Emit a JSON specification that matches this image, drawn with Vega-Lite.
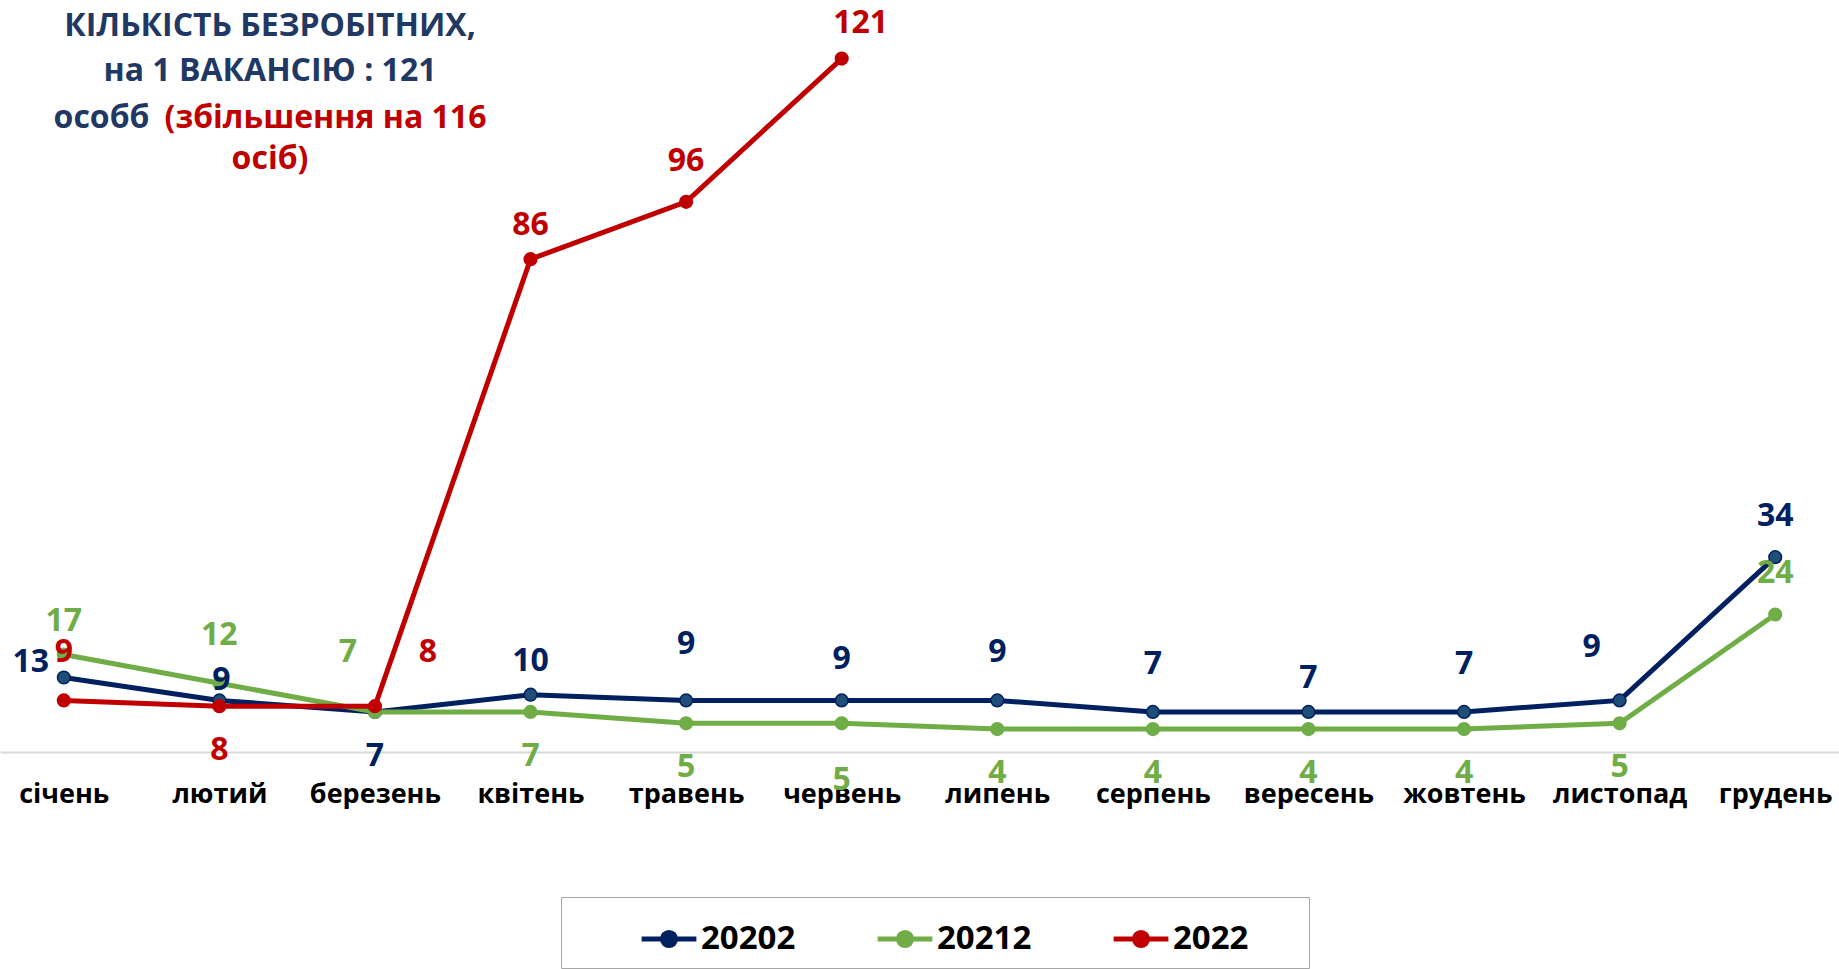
{
  "$schema": "https://vega.github.io/schema/vega-lite/v6.json",
  "width": 1839,
  "height": 745,
  "autosize": {"type": "none"},
  "padding": {"top": 7, "left": 0, "right": 0, "bottom": 217},
  "background": "white",
  "config": {
    "view": {"stroke": null},
    "font": "Open Sans"
  },
  "title": {
    "text": ["КІЛЬКІСТЬ  БЕЗРОБІТНИХ,", "на  1  ВАКАНСІЮ : 121"],
    "subtitle": "осіб)",
    "orient": "top",
    "anchor": "start",
    "frame": "group",
    "align": "center",
    "dx": 270,
    "dy": 173,
    "font": "Open Sans",
    "fontSize": 32,
    "fontWeight": "bold",
    "color": "#1F3864",
    "lineHeight": 45,
    "subtitleFont": "Open Sans",
    "subtitleFontSize": 32,
    "subtitleFontWeight": "bold",
    "subtitleColor": "#C00000",
    "subtitleLineHeight": 45,
    "subtitlePadding": 56
  },
  "data": {
    "values": [
      {"month": "січень", "series": "20202", "value": 13},
      {"month": "лютий", "series": "20202", "value": 9},
      {"month": "березень", "series": "20202", "value": 7},
      {"month": "квітень", "series": "20202", "value": 10},
      {"month": "травень", "series": "20202", "value": 9},
      {"month": "червень", "series": "20202", "value": 9},
      {"month": "липень", "series": "20202", "value": 9},
      {"month": "серпень", "series": "20202", "value": 7},
      {"month": "вересень", "series": "20202", "value": 7},
      {"month": "жовтень", "series": "20202", "value": 7},
      {"month": "листопад", "series": "20202", "value": 9},
      {"month": "грудень", "series": "20202", "value": 34},
      {"month": "січень", "series": "20212", "value": 17},
      {"month": "лютий", "series": "20212", "value": 12},
      {"month": "березень", "series": "20212", "value": 7},
      {"month": "квітень", "series": "20212", "value": 7},
      {"month": "травень", "series": "20212", "value": 5},
      {"month": "червень", "series": "20212", "value": 5},
      {"month": "липень", "series": "20212", "value": 4},
      {"month": "серпень", "series": "20212", "value": 4},
      {"month": "вересень", "series": "20212", "value": 4},
      {"month": "жовтень", "series": "20212", "value": 4},
      {"month": "листопад", "series": "20212", "value": 5},
      {"month": "грудень", "series": "20212", "value": 24},
      {"month": "січень", "series": "2022", "value": 9},
      {"month": "лютий", "series": "2022", "value": 8},
      {"month": "березень", "series": "2022", "value": 8},
      {"month": "квітень", "series": "2022", "value": 86},
      {"month": "травень", "series": "2022", "value": 96},
      {"month": "червень", "series": "2022", "value": 121}
    ]
  },
  "encoding": {
    "x": {
      "field": "month",
      "type": "ordinal",
      "sort": ["січень","лютий","березень","квітень","травень","червень","липень","серпень","вересень","жовтень","листопад","грудень"],
      "scale": {"type": "point", "padding": 0.41},
      "axis": {
        "title": "(збільшення  на 116",
        "titleX": 325,
        "titleY": -625,
        "titleAlign": "center",
        "titleAnchor": null,
        "titleBaseline": "alphabetic",
        "titleFont": "Open Sans",
        "titleFontSize": 32,
        "titleFontWeight": "bold",
        "titleColor": "#C00000",
        "orient": "bottom",
        "domainColor": "#D9D9D9",
        "domainWidth": 2,
        "ticks": false,
        "tickSize": 0,
        "grid": false,
        "labelAngle": 0,
        "labelFont": "Open Sans",
        "labelFontSize": 27,
        "labelFontWeight": "bold",
        "labelColor": "#000000",
        "labelBaseline": "middle",
        "labelPadding": 42
      }
    },
    "y": {
      "field": "value",
      "type": "quantitative",
      "scale": {"domain": [0, 130], "nice": false, "zero": true},
      "axis": {
        "title": "особб",
        "titleX": 101,
        "titleY": 120,
        "titleAngle": 0,
        "titleAlign": "center",
        "titleAnchor": null,
        "titleBaseline": "alphabetic",
        "titleFont": "Open Sans",
        "titleFontSize": 32,
        "titleFontWeight": "bold",
        "titleColor": "#1F3864",
        "domain": false,
        "ticks": false,
        "labels": false,
        "grid": false
      }
    }
  },
  "layer": [
    {
      "mark": {"type": "line", "strokeWidth": 5},
      "encoding": {
        "color": {
          "field": "series",
          "type": "nominal",
          "scale": {"domain": ["20202", "20212", "2022"], "range": ["#002060", "#70AD47", "#C00000"]},
          "legend": {
            "title": "\u00a0",
            "titleOrient": "left",
            "titleFontSize": 10,
            "titlePadding": 66,
            "orient": "none",
            "legendX": 561,
            "legendY": 890,
            "direction": "horizontal",
            "padding": 12,
            "strokeColor": "#A6A6A6",
            "labelFont": "Open Sans",
            "labelFontSize": 33,
            "labelFontWeight": "bold",
            "labelColor": "#000000",
            "labelOffset": 2,
            "labelLimit": 1000,
            "columnPadding": 71,
            "symbolType": "M-1,0L1,0M-0.24,0A0.24,0.24,0,1,1,0.24,0A0.24,0.24,0,1,1,-0.24,0Z",
            "symbolSize": 3000,
            "symbolStrokeWidth": 5,
            "labelExpr": "datum.label == '2022' ? '2022\u2800\u2800' : datum.label",
            "encode": {
              "symbols": {"update": {"fill": {"scale": "color", "field": "value"}, "stroke": {"scale": "color", "field": "value"}}}
            }
          }
        }
      }
    },
    {
      "mark": {"type": "point", "filled": true, "size": 160, "strokeWidth": 1.5, "opacity": 1},
      "encoding": {
        "fill": {
          "field": "series",
          "type": "nominal",
          "scale": {"domain": ["20202", "20212", "2022"], "range": ["#1F4E79", "#70AD47", "#C00000"]},
          "legend": null
        },
        "stroke": {
          "field": "series",
          "type": "nominal",
          "scale": {"domain": ["20202", "20212", "2022"], "range": ["#002060", "#70AD47", "#C00000"]},
          "legend": null
        }
      }
    },
    {
      "transform": [{"filter": "indexof(['20202|липень','20202|серпень','20202|жовтень','2022|січень','20212|лютий'], datum.series + '|' + datum.month) >= 0"}],
      "mark": {"type": "text", "font": "Open Sans", "fontSize": 32, "fontWeight": "bold", "baseline": "middle", "align": "center", "dy": -48},
      "encoding": {"text": {"field": "value"}, "color": {"field": "series", "type": "nominal"}}
    },
    {
      "transform": [{"filter": "indexof(['20202|травень'], datum.series + '|' + datum.month) >= 0"}],
      "mark": {"type": "text", "font": "Open Sans", "fontSize": 32, "fontWeight": "bold", "baseline": "middle", "align": "center", "dy": -56},
      "encoding": {"text": {"field": "value"}, "color": {"field": "series", "type": "nominal"}}
    },
    {
      "transform": [{"filter": "indexof(['20202|червень','2022|травень','20202|грудень','20212|грудень'], datum.series + '|' + datum.month) >= 0"}],
      "mark": {"type": "text", "font": "Open Sans", "fontSize": 32, "fontWeight": "bold", "baseline": "middle", "align": "center", "dy": -41},
      "encoding": {"text": {"field": "value"}, "color": {"field": "series", "type": "nominal"}}
    },
    {
      "transform": [{"filter": "indexof(['20202|вересень','20212|січень','2022|квітень','20202|квітень'], datum.series + '|' + datum.month) >= 0"}],
      "mark": {"type": "text", "font": "Open Sans", "fontSize": 32, "fontWeight": "bold", "baseline": "middle", "align": "center", "dy": -34},
      "encoding": {"text": {"field": "value"}, "color": {"field": "series", "type": "nominal"}}
    },
    {
      "transform": [{"filter": "indexof(['20202|березень','20212|квітень','20212|травень','20212|липень','20212|серпень','20212|вересень','20212|жовтень','20212|листопад','2022|лютий'], datum.series + '|' + datum.month) >= 0"}],
      "mark": {"type": "text", "font": "Open Sans", "fontSize": 32, "fontWeight": "bold", "baseline": "middle", "align": "center", "dy": 44},
      "encoding": {"text": {"field": "value"}, "color": {"field": "series", "type": "nominal"}}
    },
    {
      "transform": [{"filter": "indexof(['20212|червень'], datum.series + '|' + datum.month) >= 0"}],
      "mark": {"type": "text", "font": "Open Sans", "fontSize": 32, "fontWeight": "bold", "baseline": "middle", "align": "center", "dy": 57},
      "encoding": {"text": {"field": "value"}, "color": {"field": "series", "type": "nominal"}}
    },
    {
      "transform": [{"filter": "datum.series == '20202' && datum.month == 'січень'"}],
      "mark": {"type": "text", "font": "Open Sans", "fontSize": 32, "fontWeight": "bold", "baseline": "middle", "align": "center", "dx": -33, "dy": -16},
      "encoding": {"text": {"field": "value"}, "color": {"field": "series", "type": "nominal"}}
    },
    {
      "transform": [{"filter": "datum.series == '20202' && datum.month == 'лютий'"}],
      "mark": {"type": "text", "font": "Open Sans", "fontSize": 32, "fontWeight": "bold", "baseline": "middle", "align": "center", "dx": 2, "dy": -20},
      "encoding": {"text": {"field": "value"}, "color": {"field": "series", "type": "nominal"}}
    },
    {
      "transform": [{"filter": "datum.series == '20202' && datum.month == 'листопад'"}],
      "mark": {"type": "text", "font": "Open Sans", "fontSize": 32, "fontWeight": "bold", "baseline": "middle", "align": "center", "dx": -28, "dy": -53},
      "encoding": {"text": {"field": "value"}, "color": {"field": "series", "type": "nominal"}}
    },
    {
      "transform": [{"filter": "datum.series == '20212' && datum.month == 'березень'"}],
      "mark": {"type": "text", "font": "Open Sans", "fontSize": 32, "fontWeight": "bold", "baseline": "middle", "align": "center", "dx": -27, "dy": -60},
      "encoding": {"text": {"field": "value"}, "color": {"field": "series", "type": "nominal"}}
    },
    {
      "transform": [{"filter": "datum.series == '2022' && datum.month == 'березень'"}],
      "mark": {"type": "text", "font": "Open Sans", "fontSize": 32, "fontWeight": "bold", "baseline": "middle", "align": "center", "dx": 53, "dy": -54},
      "encoding": {"text": {"field": "value"}, "color": {"field": "series", "type": "nominal"}}
    },
    {
      "transform": [{"filter": "datum.series == '2022' && datum.month == 'червень'"}],
      "mark": {"type": "text", "font": "Open Sans", "fontSize": 32, "fontWeight": "bold", "baseline": "middle", "align": "center", "dx": 19, "dy": -36},
      "encoding": {"text": {"field": "value"}, "color": {"field": "series", "type": "nominal"}}
    }
  ]
}
